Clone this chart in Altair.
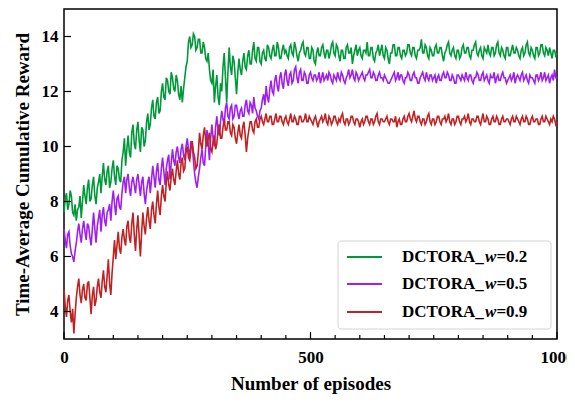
import altair as alt
import pandas as pd

episodes = [i * 2.5 for i in range(401)]
series_names = ["DCTORA_w=0.2", "DCTORA_w=0.5", "DCTORA_w=0.9"]
weight_labels = ["=0.2", "=0.5", "=0.9"]
colors = ["#00993a", "#a01ff0", "#c02222"]

green = [
    7.6, 8.1, 8.3, 7.7, 7.9, 8.4, 8.2, 7.6, 7.5, 7.9, 7.3, 7.7,
    7.8, 8.2, 7.4, 8.0, 8.6, 8.2, 7.9, 8.5, 8.8, 8.0, 8.1, 8.6,
    8.9, 8.2, 7.9, 8.5, 8.7, 9.0, 8.3, 8.9, 9.4, 8.8, 8.6, 9.1, 9.3, 8.5, 8.7, 9.2,
    9.5, 8.9, 8.6, 9.3, 9.2, 8.8, 8.7, 9.5, 9.8, 10.3, 9.3, 9.9, 10.4, 9.8, 9.6, 10.5, 10.8, 10.1, 9.9, 10.6,
    10.9, 10.2, 9.8, 10.7, 10.6, 10.0, 10.2, 10.9, 11.2, 10.6, 10.8, 11.4, 11.7, 11.1, 11.0, 11.6, 11.8, 11.2, 11.3, 12.0,
    12.3, 11.8, 11.7, 12.5, 12.4, 12.0, 11.9, 12.7, 12.5, 12.1, 12.0, 12.6, 12.4, 11.9, 11.7, 12.2, 11.6, 12.1, 12.5, 12.9,
    13.1, 13.8, 14.0, 13.6, 13.7, 14.1, 14.0, 13.5, 13.6, 13.9, 13.9, 13.4, 13.4, 13.8, 13.6, 13.2, 13.1, 13.4, 12.8, 12.4,
    12.3, 12.8, 11.6, 12.2, 12.6, 11.8, 11.5, 12.3, 12.0, 12.9, 13.4, 12.5, 11.6, 12.7, 13.6, 12.9, 12.6, 13.3, 13.1, 12.5,
    11.9, 12.7, 13.2, 12.8, 12.6, 13.1, 13.4, 12.9, 12.8, 13.3, 13.5, 13.0, 13.0, 13.5, 13.8, 13.2, 13.1, 13.6, 13.6, 13.1,
    13.0, 13.4, 13.5, 13.2, 13.1, 13.7, 13.6, 13.3, 13.2, 13.5, 13.7, 13.3, 13.3, 13.8, 13.6, 13.2, 13.2, 13.5, 13.7, 13.4,
    13.5, 13.3, 13.2, 13.6, 13.7, 13.4, 13.3, 13.8, 13.6, 13.3, 13.1, 13.4, 13.5, 13.7, 13.8, 13.4, 13.3, 13.6, 13.6, 13.2,
    13.2, 13.6, 13.5, 13.1, 13.0, 13.4, 13.6, 13.3, 13.3, 13.6, 13.7, 13.4, 13.2, 13.5, 13.5, 13.2, 13.4, 13.7, 13.8, 13.4,
    13.3, 13.7, 13.6, 13.3, 13.1, 13.5, 13.5, 13.2, 13.2, 13.6, 13.7, 13.4, 13.4, 13.6, 13.0, 13.3, 13.5, 13.7, 13.3, 13.5,
    13.6, 13.3, 13.2, 13.5, 13.5, 13.4, 13.8, 13.3, 13.3, 13.6, 13.6, 13.2, 13.1, 13.4, 13.5, 13.7, 13.3, 13.5, 13.7, 13.3,
    13.2, 13.6, 13.5, 13.2, 13.0, 13.4, 13.4, 13.7, 13.7, 13.3, 13.3, 13.6, 13.6, 13.3, 13.2, 13.5, 13.5, 13.3, 13.4, 13.7,
    13.7, 13.4, 13.3, 13.6, 13.6, 13.3, 13.2, 13.5, 13.5, 13.6, 13.9, 13.4, 13.4, 13.7, 13.6, 13.3, 13.2, 13.6, 13.5, 13.3,
    13.3, 13.6, 13.7, 13.4, 13.4, 13.6, 13.6, 13.3, 13.1, 13.4, 13.5, 13.7, 13.8, 13.4, 13.3, 13.5, 13.6, 13.3, 13.2, 13.5,
    13.5, 13.2, 13.3, 13.6, 13.7, 13.4, 13.4, 13.6, 13.6, 13.3, 13.2, 13.5, 13.5, 13.7, 13.8, 13.4, 13.3, 13.5, 13.6, 13.3,
    13.2, 13.6, 13.5, 13.4, 13.7, 13.4, 13.3, 13.6, 13.6, 13.3, 13.4, 13.7, 13.8, 13.4, 13.3, 13.6, 13.5, 13.3, 13.2, 13.6,
    13.6, 13.3, 13.3, 13.5, 13.7, 13.4, 13.4, 13.6, 13.5, 13.3, 13.2, 13.5, 13.6, 13.3, 13.4, 13.7, 13.8, 13.4, 13.3, 13.6,
    13.5, 13.3, 13.2, 13.6, 13.6, 13.3, 13.4, 13.7, 13.7, 13.4, 13.3, 13.6, 13.5, 13.3, 13.6, 13.4, 13.2, 13.5, 13.5, 13.3,
    13.4,
]

purple = [
    7.0, 6.6, 6.3, 6.8, 6.9, 6.4, 6.1, 6.0, 5.8, 6.2, 6.5, 6.9,
    7.2, 6.8, 6.5, 7.0, 7.3, 6.9, 6.6, 7.2, 7.1, 6.7, 6.4, 7.0,
    7.6, 7.0, 6.5, 7.1, 7.4, 7.7, 6.9, 7.5, 7.8, 7.3, 7.1, 7.6, 7.7, 7.9, 7.3, 8.0,
    8.4, 7.9, 7.5, 8.1, 8.2, 7.8, 7.7, 8.3, 8.7, 8.9, 8.3, 8.8, 9.0, 8.5, 8.2, 8.7, 8.9, 8.6, 8.3, 8.8,
    9.0, 8.6, 8.2, 8.7, 8.9, 8.3, 7.9, 8.4, 8.7, 8.9, 8.3, 8.8, 9.3, 8.9, 8.5, 9.1, 9.4, 8.8, 8.6, 9.2,
    9.6, 9.1, 8.6, 9.2, 9.5, 9.7, 8.8, 9.4, 9.9, 9.5, 9.3, 9.8, 10.0, 9.6, 9.4, 9.9, 10.1, 9.7, 9.5, 10.0,
    10.3, 9.9, 9.6, 10.2, 10.1, 9.5, 9.0, 8.7, 8.5, 8.9, 9.2, 9.6, 9.9, 9.4, 9.3, 10.0, 10.6, 10.1, 9.5, 10.3,
    10.8, 10.3, 10.0, 10.7, 11.1, 10.6, 10.4, 10.9, 11.3, 11.0, 10.8, 11.4, 11.6, 11.1, 11.0, 11.4, 11.5, 11.0, 11.1, 11.5,
    11.5, 11.2, 11.0, 11.3, 11.4, 11.1, 11.1, 11.5, 11.7, 11.3, 11.2, 11.6, 11.5, 11.2, 11.8, 11.4, 11.3, 11.1, 11.0, 11.3,
    11.4, 11.7, 11.9, 11.5, 12.2, 11.8, 11.6, 12.1, 12.4, 12.0, 11.9, 12.4, 12.6, 12.2, 12.0, 12.5, 12.7, 12.3, 12.1, 12.6,
    12.8, 12.4, 12.2, 12.6, 12.7, 12.3, 12.4, 12.8, 12.9, 12.5, 12.3, 12.7, 12.8, 12.4, 12.4, 12.7, 12.6, 12.3, 12.3, 12.6,
    12.7, 12.5, 12.4, 12.6, 12.6, 12.4, 12.5, 12.7, 12.3, 12.5, 12.7, 12.4, 12.5, 12.6, 12.4, 12.7, 12.6, 12.4, 12.3, 12.6,
    12.5, 12.4, 12.7, 12.5, 12.4, 12.7, 12.6, 12.4, 12.3, 12.5, 12.6, 12.8, 12.5, 12.6, 12.8, 12.5, 12.4, 12.7, 12.6, 12.4,
    12.5, 12.6, 12.7, 12.5, 12.4, 12.6, 12.6, 12.7, 12.8, 12.5, 12.5, 12.7, 12.6, 12.4, 12.4, 12.6, 12.7, 12.5, 12.5, 12.4,
    12.6, 12.5, 12.4, 12.3, 12.3, 12.4, 12.5, 12.6, 12.7, 12.4, 12.5, 12.7, 12.4, 12.6, 12.6, 12.4, 12.3, 12.5, 12.5, 12.7,
    12.6, 12.4, 12.4, 12.6, 12.7, 12.5, 12.5, 12.3, 12.3, 12.5, 12.6, 12.7, 12.5, 12.4, 12.7, 12.5, 12.4, 12.6, 12.6, 12.4,
    12.5, 12.6, 12.3, 12.5, 12.6, 12.4, 12.4, 12.6, 12.7, 12.5, 12.5, 12.7, 12.6, 12.4, 12.4, 12.6, 12.5, 12.3, 12.3, 12.6,
    12.6, 12.5, 12.4, 12.6, 12.5, 12.4, 12.7, 12.5, 12.4, 12.6, 12.6, 12.4, 12.3, 12.5, 12.5, 12.7, 12.6, 12.4, 12.4, 12.6,
    12.7, 12.4, 12.5, 12.6, 12.4, 12.3, 12.6, 12.5, 12.5, 12.7, 12.3, 12.5, 12.6, 12.4, 12.4, 12.6, 12.7, 12.5, 12.5, 12.3,
    12.4, 12.5, 12.6, 12.4, 12.5, 12.7, 12.3, 12.5, 12.6, 12.5, 12.4, 12.6, 12.7, 12.4, 12.5, 12.6, 12.4, 12.3, 12.6, 12.5,
    12.5, 12.4, 12.3, 12.6, 12.6, 12.4, 12.5, 12.7, 12.4, 12.5, 12.7, 12.4, 12.5, 12.6, 12.3, 12.5, 12.6, 12.4, 12.8, 12.5,
    12.5,
]

red = [
    4.8, 4.2, 3.8, 4.4, 4.6, 4.0, 3.6, 4.1, 3.2, 3.9, 4.5, 4.9,
    5.2, 4.6, 4.3, 4.8, 5.0, 4.5, 4.4, 5.0, 5.1, 4.5, 3.9, 4.6,
    4.9, 4.2, 4.4, 4.9, 5.2, 4.7, 4.5, 5.1, 5.5, 4.9, 4.7, 5.3, 5.9, 5.0, 4.6, 5.4,
    6.0, 6.6, 5.9, 6.4, 6.9, 6.3, 6.1, 6.7, 7.0, 6.6, 6.4, 7.1, 7.3, 6.7, 6.5, 7.2, 7.6, 6.8, 6.2, 7.0,
    7.5, 6.7, 6.0, 6.9, 7.6, 7.1, 6.8, 7.4, 7.8, 7.3, 7.0, 7.7, 8.0, 7.5, 7.2, 7.9, 8.4, 7.8, 7.5, 8.2,
    8.6, 8.2, 8.0, 8.7, 9.1, 8.6, 8.4, 8.9, 9.2, 8.8, 8.6, 9.1, 9.5, 9.0, 8.8, 9.4, 9.6, 9.1, 9.2, 9.8,
    10.0, 9.6, 9.5, 9.9, 10.2, 9.8, 9.6, 9.2, 9.3, 9.8, 10.5, 10.1, 9.9, 10.4, 10.7, 10.2, 10.0, 10.3, 10.5, 9.9,
    9.8, 10.2, 10.4, 9.9, 10.1, 10.6, 10.8, 10.3, 10.3, 10.7, 11.0, 10.6, 10.6, 10.9, 10.9, 10.5, 10.4, 10.8, 10.7, 10.3,
    10.1, 10.5, 10.8, 10.4, 10.3, 10.7, 10.9, 10.4, 9.8, 10.3, 10.6, 10.9, 10.9, 10.6, 10.5, 10.9, 11.0, 10.7, 10.7, 11.0,
    11.1, 10.9, 10.8, 11.0, 11.2, 10.9, 10.9, 11.1, 11.1, 10.8, 10.8, 11.0, 11.2, 10.9, 10.9, 11.1, 11.1, 10.9, 10.8, 11.0,
    11.1, 10.9, 10.8, 11.0, 11.2, 10.9, 10.9, 11.1, 11.0, 10.8, 10.8, 11.1, 11.1, 10.9, 10.9, 11.0, 11.2, 10.9, 10.9, 11.1,
    11.0, 10.9, 10.8, 11.0, 11.1, 10.9, 10.7, 10.9, 11.0, 11.1, 10.9, 11.0, 11.2, 10.9, 10.8, 11.1, 11.0, 10.8, 10.9, 11.1,
    11.1, 10.9, 10.8, 11.0, 10.9, 11.1, 11.2, 10.9, 10.8, 11.0, 11.0, 10.8, 10.9, 11.1, 11.1, 10.9, 10.8, 11.0, 11.0, 10.9,
    10.7, 10.9, 11.0, 10.8, 10.9, 11.1, 11.1, 10.9, 10.8, 11.0, 11.0, 10.8, 10.9, 11.1, 11.2, 10.9, 10.8, 11.0, 11.0, 10.9,
    10.9, 11.0, 11.1, 10.9, 10.8, 11.0, 11.0, 10.9, 10.9, 11.1, 10.7, 10.9, 11.0, 10.8, 10.8, 11.0, 11.1, 10.9, 10.9, 11.1,
    11.2, 11.0, 10.9, 11.1, 11.3, 11.0, 10.9, 11.1, 11.1, 10.9, 10.8, 11.0, 11.0, 10.8, 10.9, 11.1, 11.2, 10.9, 10.8, 11.0,
    11.0, 10.8, 10.9, 11.1, 11.1, 10.9, 10.8, 11.0, 11.0, 11.1, 10.9, 11.0, 11.2, 10.9, 10.8, 11.0, 11.0, 10.8, 10.9, 11.1,
    11.1, 10.9, 10.8, 11.0, 11.0, 11.1, 10.9, 11.0, 11.2, 10.9, 10.8, 11.0, 11.0, 10.9, 10.9, 11.1, 11.1, 10.9, 10.8, 11.0,
    11.2, 10.9, 10.9, 11.1, 11.0, 10.8, 10.8, 11.0, 11.1, 10.9, 10.9, 11.1, 11.0, 10.8, 10.8, 11.0, 11.1, 10.9, 10.9, 11.0,
    11.0, 10.9, 10.8, 11.0, 11.1, 10.9, 10.9, 11.1, 11.0, 10.9, 10.8, 11.0, 11.1, 10.9, 10.9, 11.1, 11.0, 10.8, 10.8, 11.0,
    11.1, 10.9, 10.9, 11.0, 11.0, 10.8, 10.8, 11.0, 11.1, 10.9, 10.9, 11.1, 11.0, 10.9, 10.8, 11.0, 10.9, 11.1, 11.0, 10.8,
    10.9,
]

for s in (green, purple, red):
    assert len(s) == len(episodes), len(s)

y_ticks = [4, 6, 8, 10, 12, 14]
x_major = [0, 500, 1000]
x_minor = [v for v in range(50, 1000, 50) if v != 500]

W, H = 493, 330
FONT = "Liberation Serif"

frames = []
for name, vals in zip(series_names, [green, purple, red]):
    frames.append(pd.DataFrame({"episode": episodes, "reward": vals, "series": name}))
df = pd.concat(frames, ignore_index=True)

xs = alt.Scale(domain=[0, 1000], nice=False, zero=False)
ys = alt.Scale(domain=[3, 15], nice=False, zero=False)

x_axis = alt.Axis(
    values=x_major, format="d", ticks=False, domain=False, grid=False,
    labelFont=FONT, labelFontSize=17, labelFontWeight="bold", labelColor="black",
    labelPadding=10, labelFlush=False,
    titleFont=FONT, titleFontSize=19, titleFontWeight="bold", titleColor="black",
    titlePadding=9)
y_axis = alt.Axis(
    values=y_ticks, ticks=False, domain=False, grid=False,
    labelFont=FONT, labelFontSize=17, labelFontWeight="bold", labelColor="black",
    labelPadding=6,
    titleFont=FONT, titleFontSize=19, titleFontWeight="bold", titleColor="black",
    titlePadding=9)
X_TITLE = "Number of episodes"
Y_TITLE = "Time-Average Cumulative Reward"

lines = alt.Chart(df).mark_line(strokeWidth=1.6).encode(
    x=alt.X("episode:Q", scale=xs, axis=x_axis, title=X_TITLE),
    y=alt.Y("reward:Q", scale=ys, axis=y_axis, title=Y_TITLE),
    color=alt.Color("series:N", scale=alt.Scale(domain=series_names, range=colors), legend=None),
    detail="series:N",
)

xmaj = alt.Chart(pd.DataFrame({"v": x_major})).mark_rule(color="black", strokeWidth=1.2).encode(
    x=alt.X("v:Q", scale=xs, axis=x_axis, title=X_TITLE), y=alt.value(H), y2=alt.value(H - 7))
xmin = alt.Chart(pd.DataFrame({"v": x_minor})).mark_rule(color="black", strokeWidth=1.2).encode(
    x=alt.X("v:Q", scale=xs, axis=x_axis, title=X_TITLE), y=alt.value(H), y2=alt.value(H - 4))
ytk = alt.Chart(pd.DataFrame({"v": y_ticks})).mark_rule(color="black", strokeWidth=1.2).encode(
    y=alt.Y("v:Q", scale=ys, axis=y_axis, title=Y_TITLE), x=alt.value(0), x2=alt.value(7))

# legend
one = pd.DataFrame({"k": [0]})
legend_layers = [
    alt.Chart(one).mark_rect(fill="white", stroke="#d4d4d4", strokeWidth=1, cornerRadius=3).encode(
        x=alt.value(274), x2=alt.value(487), y=alt.value(232), y2=alt.value(320))
]
row_y = [248, 275, 303]
fs = 17
x_text = 338
w_x = x_text + 5.033 * fs - 2.5
eq_x = w_x + 0.667 * fs
for i, name in enumerate(series_names):
    yy = row_y[i]
    legend_layers.append(alt.Chart(one).mark_rule(color=colors[i], strokeWidth=2).encode(
        x=alt.value(283), x2=alt.value(318), y=alt.value(yy)))
    legend_layers.append(alt.Chart(one).mark_text(
        text="DCTORA_", font=FONT, fontSize=fs, fontWeight="bold", align="left", baseline="middle",
        color="black").encode(x=alt.value(x_text), y=alt.value(yy)))
    legend_layers.append(alt.Chart(one).mark_text(
        text="w", font=FONT, fontSize=fs, fontWeight="bold", fontStyle="italic", align="left",
        baseline="middle", color="black").encode(x=alt.value(w_x), y=alt.value(yy)))
    legend_layers.append(alt.Chart(one).mark_text(
        text=weight_labels[i], font=FONT, fontSize=fs, fontWeight="bold", align="left",
        baseline="middle", color="black").encode(x=alt.value(eq_x), y=alt.value(yy)))

chart = alt.layer(lines, xmaj, xmin, ytk, *legend_layers).properties(
    width=W, height=H,
    autosize=alt.AutoSizeParams(type="none"),
    padding={"left": 56, "top": 1, "right": 10, "bottom": 58},
).configure(background="white").configure_view(stroke="black", strokeWidth=1.5)

chart.save("out.html", embed_options={"renderer": "svg", "actions": False})
